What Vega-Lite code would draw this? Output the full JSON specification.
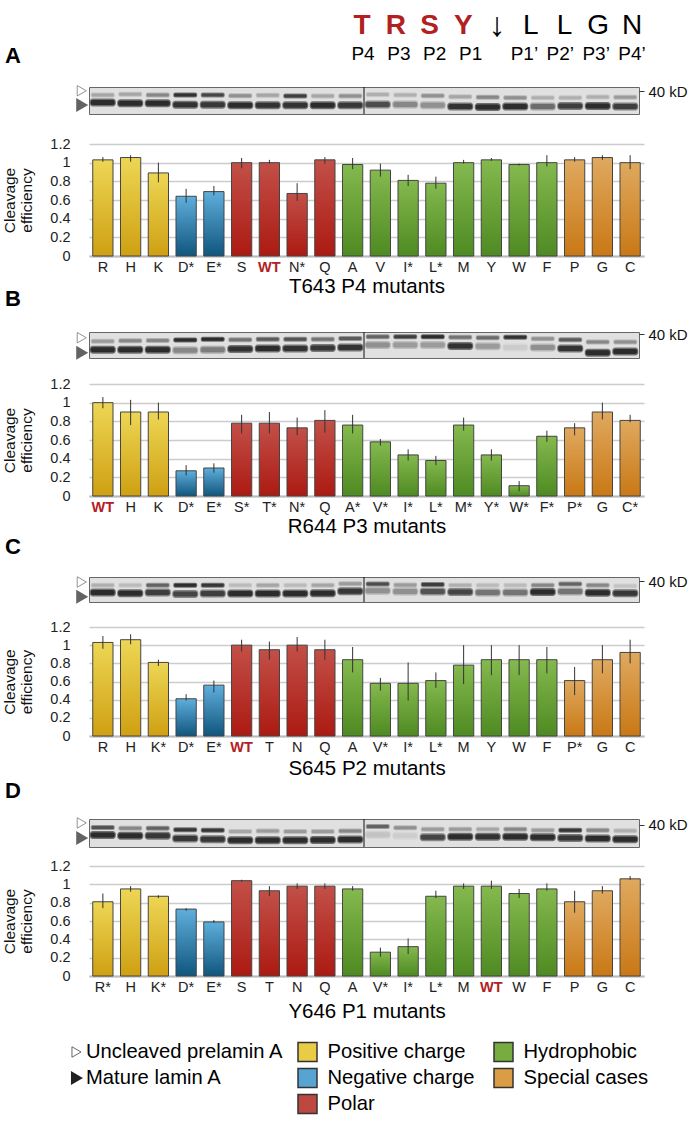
{"$schema":"https://vega.github.io/schema/vega-lite/v6.json","background":"white","padding":{"left":2,"top":0,"right":0,"bottom":0},"autosize":{"type":"pad"},"bounds":"flush","spacing":0,"config":{"font":"Liberation Sans","view":{"stroke":null},"axis":{"labelFont":"Liberation Sans","titleFont":"Liberation Sans"}},
"datasets":{"rows":[
{"panel":"A","mutant":"R","group":"Positive","eff":1.03,"low":1.01,"high":1.06,"gel_up":0.3,"gel_up_i":0.25,"gel_lo":0.57,"gel_lo_i":1},
{"panel":"A","mutant":"H","group":"Positive","eff":1.055,"low":1.01,"high":1.08,"gel_up":0.27,"gel_up_i":0.25,"gel_lo":0.6,"gel_lo_i":1},
{"panel":"A","mutant":"K","group":"Positive","eff":0.89,"low":0.79,"high":1.0,"gel_up":0.3,"gel_up_i":0.4,"gel_lo":0.6,"gel_lo_i":1},
{"panel":"A","mutant":"D*","group":"Negative","eff":0.64,"low":0.57,"high":0.72,"gel_up":0.3,"gel_up_i":0.95,"gel_lo":0.66,"gel_lo_i":0.95},
{"panel":"A","mutant":"E*","group":"Negative","eff":0.69,"low":0.65,"high":0.75,"gel_up":0.3,"gel_up_i":0.8,"gel_lo":0.66,"gel_lo_i":0.9},
{"panel":"A","mutant":"S","group":"Polar","eff":1.0,"low":0.94,"high":1.05,"gel_up":0.32,"gel_up_i":0.35,"gel_lo":0.68,"gel_lo_i":1},
{"panel":"A","mutant":"WT","group":"Polar","eff":1.0,"low":0.99,"high":1.03,"gel_up":0.31,"gel_up_i":0.25,"gel_lo":0.68,"gel_lo_i":0.95},
{"panel":"A","mutant":"N*","group":"Polar","eff":0.67,"low":0.59,"high":0.78,"gel_up":0.33,"gel_up_i":0.85,"gel_lo":0.68,"gel_lo_i":0.95},
{"panel":"A","mutant":"Q","group":"Polar","eff":1.03,"low":0.99,"high":1.06,"gel_up":0.33,"gel_up_i":0.25,"gel_lo":0.68,"gel_lo_i":1},
{"panel":"A","mutant":"A","group":"Hydrophobic","eff":0.98,"low":0.93,"high":1.05,"gel_up":0.33,"gel_up_i":0.35,"gel_lo":0.68,"gel_lo_i":0.9},
{"panel":"A","mutant":"V","group":"Hydrophobic","eff":0.92,"low":0.85,"high":0.99,"gel_up":0.28,"gel_up_i":0.2,"gel_lo":0.65,"gel_lo_i":0.75},
{"panel":"A","mutant":"I*","group":"Hydrophobic","eff":0.81,"low":0.75,"high":0.87,"gel_up":0.3,"gel_up_i":0.2,"gel_lo":0.65,"gel_lo_i":0.4},
{"panel":"A","mutant":"L*","group":"Hydrophobic","eff":0.78,"low":0.72,"high":0.85,"gel_up":0.32,"gel_up_i":0.35,"gel_lo":0.68,"gel_lo_i":0.35},
{"panel":"A","mutant":"M","group":"Hydrophobic","eff":1.0,"low":0.99,"high":1.03,"gel_up":0.36,"gel_up_i":0.25,"gel_lo":0.72,"gel_lo_i":0.95},
{"panel":"A","mutant":"Y","group":"Hydrophobic","eff":1.03,"low":1.02,"high":1.05,"gel_up":0.38,"gel_up_i":0.4,"gel_lo":0.74,"gel_lo_i":1},
{"panel":"A","mutant":"W","group":"Hydrophobic","eff":0.98,"low":0.97,"high":0.99,"gel_up":0.4,"gel_up_i":0.35,"gel_lo":0.72,"gel_lo_i":1},
{"panel":"A","mutant":"F","group":"Hydrophobic","eff":1.0,"low":0.96,"high":1.08,"gel_up":0.4,"gel_up_i":0.2,"gel_lo":0.72,"gel_lo_i":0.55},
{"panel":"A","mutant":"P","group":"Special","eff":1.03,"low":1.01,"high":1.06,"gel_up":0.4,"gel_up_i":0.2,"gel_lo":0.7,"gel_lo_i":0.85},
{"panel":"A","mutant":"G","group":"Special","eff":1.055,"low":1.03,"high":1.08,"gel_up":0.37,"gel_up_i":0.2,"gel_lo":0.7,"gel_lo_i":1},
{"panel":"A","mutant":"C","group":"Special","eff":1.0,"low":0.93,"high":1.08,"gel_up":0.38,"gel_up_i":0.3,"gel_lo":0.72,"gel_lo_i":0.85},
{"panel":"B","mutant":"WT","group":"Positive","eff":1.0,"low":0.94,"high":1.06,"gel_up":0.36,"gel_up_i":0.3,"gel_lo":0.68,"gel_lo_i":1},
{"panel":"B","mutant":"H","group":"Positive","eff":0.9,"low":0.76,"high":1.03,"gel_up":0.34,"gel_up_i":0.4,"gel_lo":0.68,"gel_lo_i":1},
{"panel":"B","mutant":"K","group":"Positive","eff":0.9,"low":0.82,"high":1.0,"gel_up":0.33,"gel_up_i":0.4,"gel_lo":0.68,"gel_lo_i":1},
{"panel":"B","mutant":"D*","group":"Negative","eff":0.27,"low":0.22,"high":0.33,"gel_up":0.31,"gel_up_i":1,"gel_lo":0.7,"gel_lo_i":0.4},
{"panel":"B","mutant":"E*","group":"Negative","eff":0.3,"low":0.25,"high":0.35,"gel_up":0.28,"gel_up_i":1,"gel_lo":0.68,"gel_lo_i":0.45},
{"panel":"B","mutant":"S*","group":"Polar","eff":0.78,"low":0.67,"high":0.87,"gel_up":0.3,"gel_up_i":0.5,"gel_lo":0.65,"gel_lo_i":0.95},
{"panel":"B","mutant":"T*","group":"Polar","eff":0.78,"low":0.67,"high":0.9,"gel_up":0.28,"gel_up_i":0.65,"gel_lo":0.63,"gel_lo_i":1},
{"panel":"B","mutant":"N*","group":"Polar","eff":0.73,"low":0.65,"high":0.84,"gel_up":0.28,"gel_up_i":0.7,"gel_lo":0.63,"gel_lo_i":0.95},
{"panel":"B","mutant":"Q","group":"Polar","eff":0.81,"low":0.68,"high":0.92,"gel_up":0.28,"gel_up_i":0.5,"gel_lo":0.62,"gel_lo_i":0.9},
{"panel":"B","mutant":"A*","group":"Hydrophobic","eff":0.76,"low":0.67,"high":0.87,"gel_up":0.25,"gel_up_i":0.65,"gel_lo":0.6,"gel_lo_i":0.95},
{"panel":"B","mutant":"V*","group":"Hydrophobic","eff":0.58,"low":0.54,"high":0.61,"gel_up":0.18,"gel_up_i":0.6,"gel_lo":0.5,"gel_lo_i":0.35},
{"panel":"B","mutant":"I*","group":"Hydrophobic","eff":0.44,"low":0.38,"high":0.5,"gel_up":0.18,"gel_up_i":0.85,"gel_lo":0.5,"gel_lo_i":0.3},
{"panel":"B","mutant":"L*","group":"Hydrophobic","eff":0.38,"low":0.33,"high":0.43,"gel_up":0.18,"gel_up_i":1,"gel_lo":0.5,"gel_lo_i":0.3},
{"panel":"B","mutant":"M*","group":"Hydrophobic","eff":0.76,"low":0.7,"high":0.84,"gel_up":0.2,"gel_up_i":0.5,"gel_lo":0.54,"gel_lo_i":0.95},
{"panel":"B","mutant":"Y*","group":"Hydrophobic","eff":0.44,"low":0.38,"high":0.5,"gel_up":0.22,"gel_up_i":0.55,"gel_lo":0.55,"gel_lo_i":0.3},
{"panel":"B","mutant":"W*","group":"Hydrophobic","eff":0.11,"low":0.05,"high":0.16,"gel_up":0.2,"gel_up_i":0.95,"gel_lo":0.6,"gel_lo_i":0.08},
{"panel":"B","mutant":"F*","group":"Hydrophobic","eff":0.64,"low":0.58,"high":0.7,"gel_up":0.26,"gel_up_i":0.35,"gel_lo":0.6,"gel_lo_i":0.35},
{"panel":"B","mutant":"P*","group":"Special","eff":0.73,"low":0.65,"high":0.78,"gel_up":0.3,"gel_up_i":0.65,"gel_lo":0.63,"gel_lo_i":0.95},
{"panel":"B","mutant":"G","group":"Special","eff":0.9,"low":0.82,"high":1.0,"gel_up":0.38,"gel_up_i":0.4,"gel_lo":0.8,"gel_lo_i":1},
{"panel":"B","mutant":"C*","group":"Special","eff":0.81,"low":0.79,"high":0.87,"gel_up":0.38,"gel_up_i":0.35,"gel_lo":0.75,"gel_lo_i":1},
{"panel":"C","mutant":"R","group":"Positive","eff":1.03,"low":0.96,"high":1.1,"gel_up":0.33,"gel_up_i":0.2,"gel_lo":0.62,"gel_lo_i":1},
{"panel":"C","mutant":"H","group":"Positive","eff":1.06,"low":1.01,"high":1.12,"gel_up":0.33,"gel_up_i":0.15,"gel_lo":0.65,"gel_lo_i":1},
{"panel":"C","mutant":"K*","group":"Positive","eff":0.81,"low":0.77,"high":0.84,"gel_up":0.33,"gel_up_i":0.6,"gel_lo":0.62,"gel_lo_i":0.85},
{"panel":"C","mutant":"D*","group":"Negative","eff":0.41,"low":0.39,"high":0.46,"gel_up":0.33,"gel_up_i":1,"gel_lo":0.68,"gel_lo_i":0.8},
{"panel":"C","mutant":"E*","group":"Negative","eff":0.56,"low":0.48,"high":0.61,"gel_up":0.33,"gel_up_i":0.9,"gel_lo":0.66,"gel_lo_i":0.85},
{"panel":"C","mutant":"WT","group":"Polar","eff":1.0,"low":0.93,"high":1.06,"gel_up":0.33,"gel_up_i":0.15,"gel_lo":0.66,"gel_lo_i":1},
{"panel":"C","mutant":"T","group":"Polar","eff":0.95,"low":0.84,"high":1.04,"gel_up":0.33,"gel_up_i":0.25,"gel_lo":0.66,"gel_lo_i":1},
{"panel":"C","mutant":"N","group":"Polar","eff":1.0,"low":0.93,"high":1.09,"gel_up":0.33,"gel_up_i":0.15,"gel_lo":0.66,"gel_lo_i":1},
{"panel":"C","mutant":"Q","group":"Polar","eff":0.95,"low":0.84,"high":1.06,"gel_up":0.33,"gel_up_i":0.25,"gel_lo":0.65,"gel_lo_i":1},
{"panel":"C","mutant":"A","group":"Hydrophobic","eff":0.84,"low":0.7,"high":0.98,"gel_up":0.27,"gel_up_i":0.3,"gel_lo":0.57,"gel_lo_i":0.9},
{"panel":"C","mutant":"V*","group":"Hydrophobic","eff":0.58,"low":0.5,"high":0.64,"gel_up":0.28,"gel_up_i":0.75,"gel_lo":0.55,"gel_lo_i":0.35},
{"panel":"C","mutant":"I*","group":"Hydrophobic","eff":0.58,"low":0.39,"high":0.81,"gel_up":0.32,"gel_up_i":0.3,"gel_lo":0.58,"gel_lo_i":0.35},
{"panel":"C","mutant":"L*","group":"Hydrophobic","eff":0.61,"low":0.53,"high":0.7,"gel_up":0.3,"gel_up_i":0.85,"gel_lo":0.58,"gel_lo_i":0.7},
{"panel":"C","mutant":"M","group":"Hydrophobic","eff":0.78,"low":0.57,"high":1.0,"gel_up":0.33,"gel_up_i":0.2,"gel_lo":0.6,"gel_lo_i":0.8},
{"panel":"C","mutant":"Y","group":"Hydrophobic","eff":0.84,"low":0.67,"high":1.0,"gel_up":0.33,"gel_up_i":0.15,"gel_lo":0.62,"gel_lo_i":0.5},
{"panel":"C","mutant":"W","group":"Hydrophobic","eff":0.84,"low":0.67,"high":1.0,"gel_up":0.33,"gel_up_i":0.15,"gel_lo":0.62,"gel_lo_i":0.5},
{"panel":"C","mutant":"F","group":"Hydrophobic","eff":0.84,"low":0.69,"high":0.98,"gel_up":0.33,"gel_up_i":0.4,"gel_lo":0.6,"gel_lo_i":1},
{"panel":"C","mutant":"P*","group":"Special","eff":0.61,"low":0.45,"high":0.76,"gel_up":0.28,"gel_up_i":0.6,"gel_lo":0.58,"gel_lo_i":0.5},
{"panel":"C","mutant":"G","group":"Special","eff":0.84,"low":0.69,"high":1.0,"gel_up":0.33,"gel_up_i":0.4,"gel_lo":0.63,"gel_lo_i":1},
{"panel":"C","mutant":"C","group":"Special","eff":0.92,"low":0.8,"high":1.06,"gel_up":0.36,"gel_up_i":0.12,"gel_lo":0.65,"gel_lo_i":0.9},
{"panel":"D","mutant":"R*","group":"Positive","eff":0.81,"low":0.74,"high":0.9,"gel_up":0.3,"gel_up_i":0.7,"gel_lo":0.57,"gel_lo_i":1},
{"panel":"D","mutant":"H","group":"Positive","eff":0.95,"low":0.92,"high":0.98,"gel_up":0.33,"gel_up_i":0.4,"gel_lo":0.6,"gel_lo_i":1},
{"panel":"D","mutant":"K*","group":"Positive","eff":0.87,"low":0.85,"high":0.88,"gel_up":0.33,"gel_up_i":0.6,"gel_lo":0.6,"gel_lo_i":0.9},
{"panel":"D","mutant":"D*","group":"Negative","eff":0.73,"low":0.71,"high":0.74,"gel_up":0.38,"gel_up_i":0.9,"gel_lo":0.7,"gel_lo_i":0.9},
{"panel":"D","mutant":"E*","group":"Negative","eff":0.59,"low":0.58,"high":0.61,"gel_up":0.4,"gel_up_i":0.9,"gel_lo":0.72,"gel_lo_i":0.9},
{"panel":"D","mutant":"S","group":"Polar","eff":1.04,"low":1.03,"high":1.05,"gel_up":0.45,"gel_up_i":0.25,"gel_lo":0.76,"gel_lo_i":1},
{"panel":"D","mutant":"T","group":"Polar","eff":0.93,"low":0.87,"high":0.98,"gel_up":0.43,"gel_up_i":0.3,"gel_lo":0.76,"gel_lo_i":1},
{"panel":"D","mutant":"N","group":"Polar","eff":0.98,"low":0.95,"high":1.01,"gel_up":0.45,"gel_up_i":0.3,"gel_lo":0.76,"gel_lo_i":1},
{"panel":"D","mutant":"Q","group":"Polar","eff":0.98,"low":0.95,"high":1.01,"gel_up":0.45,"gel_up_i":0.3,"gel_lo":0.75,"gel_lo_i":1},
{"panel":"D","mutant":"A","group":"Hydrophobic","eff":0.95,"low":0.93,"high":0.98,"gel_up":0.43,"gel_up_i":0.4,"gel_lo":0.73,"gel_lo_i":1},
{"panel":"D","mutant":"V*","group":"Hydrophobic","eff":0.26,"low":0.21,"high":0.31,"gel_up":0.27,"gel_up_i":0.6,"gel_lo":0.56,"gel_lo_i":0.12},
{"panel":"D","mutant":"I*","group":"Hydrophobic","eff":0.32,"low":0.24,"high":0.41,"gel_up":0.31,"gel_up_i":0.35,"gel_lo":0.6,"gel_lo_i":0.07},
{"panel":"D","mutant":"L*","group":"Hydrophobic","eff":0.87,"low":0.85,"high":0.93,"gel_up":0.37,"gel_up_i":0.3,"gel_lo":0.65,"gel_lo_i":0.8},
{"panel":"D","mutant":"M","group":"Hydrophobic","eff":0.98,"low":0.95,"high":1.01,"gel_up":0.37,"gel_up_i":0.3,"gel_lo":0.63,"gel_lo_i":1},
{"panel":"D","mutant":"WT","group":"Hydrophobic","eff":0.98,"low":0.95,"high":1.04,"gel_up":0.37,"gel_up_i":0.25,"gel_lo":0.63,"gel_lo_i":0.95},
{"panel":"D","mutant":"W","group":"Hydrophobic","eff":0.9,"low":0.85,"high":0.95,"gel_up":0.37,"gel_up_i":0.4,"gel_lo":0.63,"gel_lo_i":1},
{"panel":"D","mutant":"F","group":"Hydrophobic","eff":0.95,"low":0.93,"high":1.01,"gel_up":0.4,"gel_up_i":0.3,"gel_lo":0.65,"gel_lo_i":1},
{"panel":"D","mutant":"P","group":"Special","eff":0.81,"low":0.69,"high":0.93,"gel_up":0.4,"gel_up_i":0.9,"gel_lo":0.68,"gel_lo_i":0.9},
{"panel":"D","mutant":"G","group":"Special","eff":0.93,"low":0.9,"high":0.98,"gel_up":0.4,"gel_up_i":0.4,"gel_lo":0.7,"gel_lo_i":1},
{"panel":"D","mutant":"C","group":"Special","eff":1.06,"low":1.05,"high":1.09,"gel_up":0.42,"gel_up_i":0.2,"gel_lo":0.72,"gel_lo_i":1}
],
"seq":[
{"site":"P4","residue":"T","mutated":true},{"site":"P3","residue":"R","mutated":true},{"site":"P2","residue":"S","mutated":true},{"site":"P1","residue":"Y","mutated":true},{"site":"cut","residue":"↓","mutated":false},{"site":"P1’","residue":"L","mutated":false},{"site":"P2’","residue":"L","mutated":false},{"site":"P3’","residue":"G","mutated":false},{"site":"P4’","residue":"N","mutated":false}],
"key":[
{"label":"Uncleaved prelamin A","col":"c1","row":"r1","kind":"open"},
{"label":"Mature lamin A","col":"c1","row":"r2","kind":"filled"},
{"label":"Positive charge","col":"c2","row":"r1","kind":"swatch"},
{"label":"Negative charge","col":"c2","row":"r2","kind":"swatch"},
{"label":"Polar","col":"c2","row":"r3","kind":"swatch"},
{"label":"Hydrophobic","col":"c3","row":"r1","kind":"swatch"},
{"label":"Special cases","col":"c3","row":"r2","kind":"swatch"}]},
"data":{"name":"rows"},
"vconcat":[
{"width":555,"height":40,"data":{"name":"seq"},"encoding":{"x":{"field":"site","type":"nominal","axis":null,"scale":{"type":"point","domain":["P4","P3","P2","P1","cut","P1’","P2’","P3’","P4’"],"range":[273,543],"padding":0}},"text":{"field":"residue"}},
"layer":[{"transform":[{"filter":"datum.mutated"}],"mark":{"type":"text","fontSize":28,"fontWeight":"bold","color":"#B2201F","dy":6}},{"transform":[{"filter":"!datum.mutated && datum.site!=='cut'"}],"mark":{"type":"text","fontSize":28,"color":"#000","dy":6}},{"transform":[{"filter":"datum.site==='cut'"}],"mark":{"type":"text","fontSize":34,"color":"#000","dy":6}}]},
{"width":555,"height":28,"data":{"name":"seq"},"transform":[{"filter":"datum.site!=='cut'"}],"mark":{"type":"text","fontSize":19,"color":"#000"},"encoding":{"x":{"field":"site","type":"nominal","axis":null,"scale":{"type":"point","domain":["P4","a","P3","b","P2","c","P1","d","e","P1’","f","P2’","g","P3’","h","P4’"],"range":[274,543],"padding":0}},"text":{"field":"site"}}},
{"width":555,"height":19,"data":{"values":[]},"mark":"text","encoding":{}},
{"width":550,"height":27,"title":{"text":"A","anchor":"start","frame":"group","offset":16,"dx":-84,"fontSize":22,"fontWeight":"bold","color":"#000"},"view":{"fill":"#e0e0e0","stroke":"#666"},"transform":[{"filter":"datum.panel==='A'"}],
"encoding":{"x":{"field":"mutant","type":"nominal","axis":null,"scale":{"type":"band","paddingInner":0,"paddingOuter":0,"domain":["R","H","K","D*","E*","S","WT","N*","Q","A","V","I*","L*","M","Y","W","F","P","G","C"]}}},
"layer":[
{"mark":{"type":"tick","size":24,"thickness":5,"cornerRadius":2,"color":"#222"},"encoding":{"y":{"field":"gel_up","type":"quantitative","scale":{"domain":[1,0]},"axis":{"orient":"right","values":[0.15],"labelExpr":"'40 kD'","domain":false,"grid":false,"ticks":true,"tickSize":5,"tickColor":"#333","labelFontSize":15,"labelPadding":4,"labelColor":"#111","title":null}},"opacity":{"field":"gel_up_i","type":"quantitative","scale":{"domain":[0,1],"range":[0,0.6]},"legend":null}}},
{"mark":{"type":"tick","size":22,"thickness":3,"cornerRadius":1,"color":"#000"},"encoding":{"y":{"field":"gel_up","type":"quantitative","scale":{"domain":[1,0]}},"opacity":{"field":"gel_up_i","type":"quantitative","scale":{"domain":[0,1],"range":[0,1]},"legend":null}}},
{"mark":{"type":"tick","size":26,"thickness":8,"cornerRadius":3,"color":"#222"},"encoding":{"y":{"field":"gel_lo","type":"quantitative","scale":{"domain":[1,0]}},"opacity":{"field":"gel_lo_i","type":"quantitative","scale":{"domain":[0,1],"range":[0,0.6]},"legend":null}}},
{"mark":{"type":"tick","size":24,"thickness":5,"cornerRadius":2,"color":"#000"},"encoding":{"y":{"field":"gel_lo","type":"quantitative","scale":{"domain":[1,0]}},"opacity":{"field":"gel_lo_i","type":"quantitative","scale":{"domain":[0,1],"range":[0,1]},"legend":null}}},
{"transform":[{"filter":"datum.mutant==='V'"}],"mark":{"type":"rule","color":"#111","strokeWidth":1},"encoding":{"x":{"field":"mutant","type":"nominal","bandPosition":0}}},
{"transform":[{"filter":"datum.mutant==='R'"}],"mark":{"type":"point","shape":"triangle-right","filled":true,"fill":"#fff","stroke":"#666","strokeWidth":1,"size":110,"xOffset":-21},"encoding":{"y":{"datum":0.14,"scale":{"domain":[1,0]}}}},
{"transform":[{"filter":"datum.mutant==='R'"}],"mark":{"type":"point","shape":"triangle-right","filled":true,"fill":"#222","stroke":"#222","size":110,"xOffset":-21},"encoding":{"y":{"datum":0.67,"scale":{"domain":[1,0]}}}}
]},
{"width":555,"height":30,"data":{"values":[]},"mark":"text","encoding":{}},
{"width":555,"height":112,"transform":[{"filter":"datum.panel==='A'"}],
"encoding":{"x":{"field":"mutant","type":"nominal","scale":{"type":"band","paddingInner":0.27,"paddingOuter":0.135,"domain":["R","H","K","D*","E*","S","WT","N*","Q","A","V","I*","L*","M","Y","W","F","P","G","C"]},"axis":{"title":"T643 P4 mutants","titleFontSize":20.5,"titleFontWeight":"normal","titleColor":"#000","titlePadding":3,"labelFontSize":14.5,"labelAngle":0,"labelPadding":4,"labelOverlap":false,"ticks":false,"domainColor":"#bbb","domainWidth":2,"labelColor":{"condition":{"test":"datum.value==='WT'","value":"#B2201F"},"value":"#222"},"labelFontWeight":{"condition":{"test":"datum.value==='WT'","value":"bold"},"value":"normal"}}}},
"layer":[
{"mark":{"type":"bar","stroke":"#444","strokeWidth":1},"encoding":{"y":{"field":"eff","type":"quantitative","scale":{"domain":[0,1.2]},"axis":{"values":[0,0.2,0.4,0.6,0.8,1,1.2],"tickCount":7,"labelExpr":"''+datum.value","labelOverlap":false,"title":["Cleavage","efficiency"],"titleFontSize":15.5,"titleFontWeight":"normal","titleColor":"#111","titlePadding":15,"labelFontSize":14.5,"labelColor":"#222","labelPadding":19,"ticks":false,"domain":false,"gridColor":"#ccc","gridWidth":1.5}},
"fill":{"condition":[{"test":"datum.group==='Positive'","value":{"gradient":"linear","x1":0,"y1":0,"x2":0,"y2":1,"stops":[{"offset":0,"color":"#EDD655"},{"offset":1,"color":"#CFA012"}]}},{"test":"datum.group==='Negative'","value":{"gradient":"linear","x1":0,"y1":0,"x2":0,"y2":1,"stops":[{"offset":0,"color":"#5FAEDC"},{"offset":1,"color":"#10567E"}]}},{"test":"datum.group==='Polar'","value":{"gradient":"linear","x1":0,"y1":0,"x2":0,"y2":1,"stops":[{"offset":0,"color":"#C25048"},{"offset":1,"color":"#AB1A12"}]}},{"test":"datum.group==='Hydrophobic'","value":{"gradient":"linear","x1":0,"y1":0,"x2":0,"y2":1,"stops":[{"offset":0,"color":"#84B94E"},{"offset":1,"color":"#4E8A22"}]}}],"value":{"gradient":"linear","x1":0,"y1":0,"x2":0,"y2":1,"stops":[{"offset":0,"color":"#DFA95F"},{"offset":1,"color":"#C97815"}]}}}},
{"mark":{"type":"rule","color":"#333","strokeWidth":1},"encoding":{"y":{"field":"low","type":"quantitative"},"y2":{"field":"high"}}}
]},
{"width":555,"height":76,"data":{"values":[]},"mark":"text","encoding":{}},
{"width":550,"height":26,"title":{"text":"B","anchor":"start","frame":"group","offset":16,"dx":-84,"fontSize":22,"fontWeight":"bold","color":"#000"},"view":{"fill":"#e0e0e0","stroke":"#666"},"transform":[{"filter":"datum.panel==='B'"}],
"encoding":{"x":{"field":"mutant","type":"nominal","axis":null,"scale":{"type":"band","paddingInner":0,"paddingOuter":0,"domain":["WT","H","K","D*","E*","S*","T*","N*","Q","A*","V*","I*","L*","M*","Y*","W*","F*","P*","G","C*"]}}},
"layer":[
{"mark":{"type":"tick","size":24,"thickness":5,"cornerRadius":2,"color":"#222"},"encoding":{"y":{"field":"gel_up","type":"quantitative","scale":{"domain":[1,0]},"axis":{"orient":"right","values":[0.08],"labelExpr":"'40 kD'","domain":false,"grid":false,"ticks":true,"tickSize":5,"tickColor":"#333","labelFontSize":15,"labelPadding":4,"labelColor":"#111","title":null}},"opacity":{"field":"gel_up_i","type":"quantitative","scale":{"domain":[0,1],"range":[0,0.6]},"legend":null}}},
{"mark":{"type":"tick","size":22,"thickness":3,"cornerRadius":1,"color":"#000"},"encoding":{"y":{"field":"gel_up","type":"quantitative","scale":{"domain":[1,0]}},"opacity":{"field":"gel_up_i","type":"quantitative","scale":{"domain":[0,1],"range":[0,1]},"legend":null}}},
{"mark":{"type":"tick","size":26,"thickness":8,"cornerRadius":3,"color":"#222"},"encoding":{"y":{"field":"gel_lo","type":"quantitative","scale":{"domain":[1,0]}},"opacity":{"field":"gel_lo_i","type":"quantitative","scale":{"domain":[0,1],"range":[0,0.6]},"legend":null}}},
{"mark":{"type":"tick","size":24,"thickness":5,"cornerRadius":2,"color":"#000"},"encoding":{"y":{"field":"gel_lo","type":"quantitative","scale":{"domain":[1,0]}},"opacity":{"field":"gel_lo_i","type":"quantitative","scale":{"domain":[0,1],"range":[0,1]},"legend":null}}},
{"transform":[{"filter":"datum.mutant==='V*'"}],"mark":{"type":"rule","color":"#111","strokeWidth":1},"encoding":{"x":{"field":"mutant","type":"nominal","bandPosition":0}}},
{"transform":[{"filter":"datum.mutant==='WT'"}],"mark":{"type":"point","shape":"triangle-right","filled":true,"fill":"#fff","stroke":"#666","strokeWidth":1,"size":110,"xOffset":-21},"encoding":{"y":{"datum":0.22,"scale":{"domain":[1,0]}}}},
{"transform":[{"filter":"datum.mutant==='WT'"}],"mark":{"type":"point","shape":"triangle-right","filled":true,"fill":"#222","stroke":"#222","size":110,"xOffset":-21},"encoding":{"y":{"datum":0.8,"scale":{"domain":[1,0]}}}}
]},
{"width":555,"height":26,"data":{"values":[]},"mark":"text","encoding":{}},
{"width":555,"height":112,"transform":[{"filter":"datum.panel==='B'"}],
"encoding":{"x":{"field":"mutant","type":"nominal","scale":{"type":"band","paddingInner":0.27,"paddingOuter":0.135,"domain":["WT","H","K","D*","E*","S*","T*","N*","Q","A*","V*","I*","L*","M*","Y*","W*","F*","P*","G","C*"]},"axis":{"title":"R644 P3 mutants","titleFontSize":20.5,"titleFontWeight":"normal","titleColor":"#000","titlePadding":3,"labelFontSize":14.5,"labelAngle":0,"labelPadding":4,"labelOverlap":false,"ticks":false,"domainColor":"#bbb","domainWidth":2,"labelColor":{"condition":{"test":"datum.value==='WT'","value":"#B2201F"},"value":"#222"},"labelFontWeight":{"condition":{"test":"datum.value==='WT'","value":"bold"},"value":"normal"}}}},
"layer":[
{"mark":{"type":"bar","stroke":"#444","strokeWidth":1},"encoding":{"y":{"field":"eff","type":"quantitative","scale":{"domain":[0,1.2]},"axis":{"values":[0,0.2,0.4,0.6,0.8,1,1.2],"tickCount":7,"labelExpr":"''+datum.value","labelOverlap":false,"title":["Cleavage","efficiency"],"titleFontSize":15.5,"titleFontWeight":"normal","titleColor":"#111","titlePadding":15,"labelFontSize":14.5,"labelColor":"#222","labelPadding":19,"ticks":false,"domain":false,"gridColor":"#ccc","gridWidth":1.5}},
"fill":{"condition":[{"test":"datum.group==='Positive'","value":{"gradient":"linear","x1":0,"y1":0,"x2":0,"y2":1,"stops":[{"offset":0,"color":"#EDD655"},{"offset":1,"color":"#CFA012"}]}},{"test":"datum.group==='Negative'","value":{"gradient":"linear","x1":0,"y1":0,"x2":0,"y2":1,"stops":[{"offset":0,"color":"#5FAEDC"},{"offset":1,"color":"#10567E"}]}},{"test":"datum.group==='Polar'","value":{"gradient":"linear","x1":0,"y1":0,"x2":0,"y2":1,"stops":[{"offset":0,"color":"#C25048"},{"offset":1,"color":"#AB1A12"}]}},{"test":"datum.group==='Hydrophobic'","value":{"gradient":"linear","x1":0,"y1":0,"x2":0,"y2":1,"stops":[{"offset":0,"color":"#84B94E"},{"offset":1,"color":"#4E8A22"}]}}],"value":{"gradient":"linear","x1":0,"y1":0,"x2":0,"y2":1,"stops":[{"offset":0,"color":"#DFA95F"},{"offset":1,"color":"#C97815"}]}}}},
{"mark":{"type":"rule","color":"#333","strokeWidth":1},"encoding":{"y":{"field":"low","type":"quantitative"},"y2":{"field":"high"}}}
]},
{"width":555,"height":81,"data":{"values":[]},"mark":"text","encoding":{}},
{"width":550,"height":25,"title":{"text":"C","anchor":"start","frame":"group","offset":15,"dx":-84,"fontSize":22,"fontWeight":"bold","color":"#000"},"view":{"fill":"#e0e0e0","stroke":"#666"},"transform":[{"filter":"datum.panel==='C'"}],
"encoding":{"x":{"field":"mutant","type":"nominal","axis":null,"scale":{"type":"band","paddingInner":0,"paddingOuter":0,"domain":["R","H","K*","D*","E*","WT","T","N","Q","A","V*","I*","L*","M","Y","W","F","P*","G","C"]}}},
"layer":[
{"mark":{"type":"tick","size":24,"thickness":5,"cornerRadius":2,"color":"#222"},"encoding":{"y":{"field":"gel_up","type":"quantitative","scale":{"domain":[1,0]},"axis":{"orient":"right","values":[0.17],"labelExpr":"'40 kD'","domain":false,"grid":false,"ticks":true,"tickSize":5,"tickColor":"#333","labelFontSize":15,"labelPadding":4,"labelColor":"#111","title":null}},"opacity":{"field":"gel_up_i","type":"quantitative","scale":{"domain":[0,1],"range":[0,0.6]},"legend":null}}},
{"mark":{"type":"tick","size":22,"thickness":3,"cornerRadius":1,"color":"#000"},"encoding":{"y":{"field":"gel_up","type":"quantitative","scale":{"domain":[1,0]}},"opacity":{"field":"gel_up_i","type":"quantitative","scale":{"domain":[0,1],"range":[0,1]},"legend":null}}},
{"mark":{"type":"tick","size":26,"thickness":8,"cornerRadius":3,"color":"#222"},"encoding":{"y":{"field":"gel_lo","type":"quantitative","scale":{"domain":[1,0]}},"opacity":{"field":"gel_lo_i","type":"quantitative","scale":{"domain":[0,1],"range":[0,0.6]},"legend":null}}},
{"mark":{"type":"tick","size":24,"thickness":5,"cornerRadius":2,"color":"#000"},"encoding":{"y":{"field":"gel_lo","type":"quantitative","scale":{"domain":[1,0]}},"opacity":{"field":"gel_lo_i","type":"quantitative","scale":{"domain":[0,1],"range":[0,1]},"legend":null}}},
{"transform":[{"filter":"datum.mutant==='V*'"}],"mark":{"type":"rule","color":"#111","strokeWidth":1},"encoding":{"x":{"field":"mutant","type":"nominal","bandPosition":0}}},
{"transform":[{"filter":"datum.mutant==='R'"}],"mark":{"type":"point","shape":"triangle-right","filled":true,"fill":"#fff","stroke":"#666","strokeWidth":1,"size":110,"xOffset":-21},"encoding":{"y":{"datum":0.2,"scale":{"domain":[1,0]}}}},
{"transform":[{"filter":"datum.mutant==='R'"}],"mark":{"type":"point","shape":"triangle-right","filled":true,"fill":"#222","stroke":"#222","size":110,"xOffset":-21},"encoding":{"y":{"datum":0.79,"scale":{"domain":[1,0]}}}}
]},
{"width":555,"height":25,"data":{"values":[]},"mark":"text","encoding":{}},
{"width":555,"height":109,"transform":[{"filter":"datum.panel==='C'"}],
"encoding":{"x":{"field":"mutant","type":"nominal","scale":{"type":"band","paddingInner":0.27,"paddingOuter":0.135,"domain":["R","H","K*","D*","E*","WT","T","N","Q","A","V*","I*","L*","M","Y","W","F","P*","G","C"]},"axis":{"title":"S645 P2 mutants","titleFontSize":20.5,"titleFontWeight":"normal","titleColor":"#000","titlePadding":5,"labelFontSize":14.5,"labelAngle":0,"labelPadding":4,"labelOverlap":false,"ticks":false,"domainColor":"#bbb","domainWidth":2,"labelColor":{"condition":{"test":"datum.value==='WT'","value":"#B2201F"},"value":"#222"},"labelFontWeight":{"condition":{"test":"datum.value==='WT'","value":"bold"},"value":"normal"}}}},
"layer":[
{"mark":{"type":"bar","stroke":"#444","strokeWidth":1},"encoding":{"y":{"field":"eff","type":"quantitative","scale":{"domain":[0,1.2]},"axis":{"values":[0,0.2,0.4,0.6,0.8,1,1.2],"tickCount":7,"labelExpr":"''+datum.value","labelOverlap":false,"title":["Cleavage","efficiency"],"titleFontSize":15.5,"titleFontWeight":"normal","titleColor":"#111","titlePadding":15,"labelFontSize":14.5,"labelColor":"#222","labelPadding":19,"ticks":false,"domain":false,"gridColor":"#ccc","gridWidth":1.5}},
"fill":{"condition":[{"test":"datum.group==='Positive'","value":{"gradient":"linear","x1":0,"y1":0,"x2":0,"y2":1,"stops":[{"offset":0,"color":"#EDD655"},{"offset":1,"color":"#CFA012"}]}},{"test":"datum.group==='Negative'","value":{"gradient":"linear","x1":0,"y1":0,"x2":0,"y2":1,"stops":[{"offset":0,"color":"#5FAEDC"},{"offset":1,"color":"#10567E"}]}},{"test":"datum.group==='Polar'","value":{"gradient":"linear","x1":0,"y1":0,"x2":0,"y2":1,"stops":[{"offset":0,"color":"#C25048"},{"offset":1,"color":"#AB1A12"}]}},{"test":"datum.group==='Hydrophobic'","value":{"gradient":"linear","x1":0,"y1":0,"x2":0,"y2":1,"stops":[{"offset":0,"color":"#84B94E"},{"offset":1,"color":"#4E8A22"}]}}],"value":{"gradient":"linear","x1":0,"y1":0,"x2":0,"y2":1,"stops":[{"offset":0,"color":"#DFA95F"},{"offset":1,"color":"#C97815"}]}}}},
{"mark":{"type":"rule","color":"#333","strokeWidth":1},"encoding":{"y":{"field":"low","type":"quantitative"},"y2":{"field":"high"}}}
]},
{"width":555,"height":83,"data":{"values":[]},"mark":"text","encoding":{}},
{"width":550,"height":28,"title":{"text":"D","anchor":"start","frame":"group","offset":13,"dx":-84,"fontSize":22,"fontWeight":"bold","color":"#000"},"view":{"fill":"#e0e0e0","stroke":"#666"},"transform":[{"filter":"datum.panel==='D'"}],
"encoding":{"x":{"field":"mutant","type":"nominal","axis":null,"scale":{"type":"band","paddingInner":0,"paddingOuter":0,"domain":["R*","H","K*","D*","E*","S","T","N","Q","A","V*","I*","L*","M","WT","W","F","P","G","C"]}}},
"layer":[
{"mark":{"type":"tick","size":24,"thickness":5,"cornerRadius":2,"color":"#222"},"encoding":{"y":{"field":"gel_up","type":"quantitative","scale":{"domain":[1,0]},"axis":{"orient":"right","values":[0.21],"labelExpr":"'40 kD'","domain":false,"grid":false,"ticks":true,"tickSize":5,"tickColor":"#333","labelFontSize":15,"labelPadding":4,"labelColor":"#111","title":null}},"opacity":{"field":"gel_up_i","type":"quantitative","scale":{"domain":[0,1],"range":[0,0.6]},"legend":null}}},
{"mark":{"type":"tick","size":22,"thickness":3,"cornerRadius":1,"color":"#000"},"encoding":{"y":{"field":"gel_up","type":"quantitative","scale":{"domain":[1,0]}},"opacity":{"field":"gel_up_i","type":"quantitative","scale":{"domain":[0,1],"range":[0,1]},"legend":null}}},
{"mark":{"type":"tick","size":26,"thickness":8,"cornerRadius":3,"color":"#222"},"encoding":{"y":{"field":"gel_lo","type":"quantitative","scale":{"domain":[1,0]}},"opacity":{"field":"gel_lo_i","type":"quantitative","scale":{"domain":[0,1],"range":[0,0.6]},"legend":null}}},
{"mark":{"type":"tick","size":24,"thickness":5,"cornerRadius":2,"color":"#000"},"encoding":{"y":{"field":"gel_lo","type":"quantitative","scale":{"domain":[1,0]}},"opacity":{"field":"gel_lo_i","type":"quantitative","scale":{"domain":[0,1],"range":[0,1]},"legend":null}}},
{"transform":[{"filter":"datum.mutant==='V*'"}],"mark":{"type":"rule","color":"#111","strokeWidth":1},"encoding":{"x":{"field":"mutant","type":"nominal","bandPosition":0}}},
{"transform":[{"filter":"datum.mutant==='R*'"}],"mark":{"type":"point","shape":"triangle-right","filled":true,"fill":"#fff","stroke":"#666","strokeWidth":1,"size":110,"xOffset":-21},"encoding":{"y":{"datum":0.14,"scale":{"domain":[1,0]}}}},
{"transform":[{"filter":"datum.mutant==='R*'"}],"mark":{"type":"point","shape":"triangle-right","filled":true,"fill":"#222","stroke":"#222","size":110,"xOffset":-21},"encoding":{"y":{"datum":0.68,"scale":{"domain":[1,0]}}}}
]},
{"width":555,"height":19,"data":{"values":[]},"mark":"text","encoding":{}},
{"width":555,"height":110,"transform":[{"filter":"datum.panel==='D'"}],
"encoding":{"x":{"field":"mutant","type":"nominal","scale":{"type":"band","paddingInner":0.27,"paddingOuter":0.135,"domain":["R*","H","K*","D*","E*","S","T","N","Q","A","V*","I*","L*","M","WT","W","F","P","G","C"]},"axis":{"title":"Y646 P1 mutants","titleFontSize":20.5,"titleFontWeight":"normal","titleColor":"#000","titlePadding":8,"labelFontSize":14.5,"labelAngle":0,"labelPadding":4,"labelOverlap":false,"ticks":false,"domainColor":"#bbb","domainWidth":2,"labelColor":{"condition":{"test":"datum.value==='WT'","value":"#B2201F"},"value":"#222"},"labelFontWeight":{"condition":{"test":"datum.value==='WT'","value":"bold"},"value":"normal"}}}},
"layer":[
{"mark":{"type":"bar","stroke":"#444","strokeWidth":1},"encoding":{"y":{"field":"eff","type":"quantitative","scale":{"domain":[0,1.2]},"axis":{"values":[0,0.2,0.4,0.6,0.8,1,1.2],"tickCount":7,"labelExpr":"''+datum.value","labelOverlap":false,"title":["Cleavage","efficiency"],"titleFontSize":15.5,"titleFontWeight":"normal","titleColor":"#111","titlePadding":15,"labelFontSize":14.5,"labelColor":"#222","labelPadding":19,"ticks":false,"domain":false,"gridColor":"#ccc","gridWidth":1.5}},
"fill":{"condition":[{"test":"datum.group==='Positive'","value":{"gradient":"linear","x1":0,"y1":0,"x2":0,"y2":1,"stops":[{"offset":0,"color":"#EDD655"},{"offset":1,"color":"#CFA012"}]}},{"test":"datum.group==='Negative'","value":{"gradient":"linear","x1":0,"y1":0,"x2":0,"y2":1,"stops":[{"offset":0,"color":"#5FAEDC"},{"offset":1,"color":"#10567E"}]}},{"test":"datum.group==='Polar'","value":{"gradient":"linear","x1":0,"y1":0,"x2":0,"y2":1,"stops":[{"offset":0,"color":"#C25048"},{"offset":1,"color":"#AB1A12"}]}},{"test":"datum.group==='Hydrophobic'","value":{"gradient":"linear","x1":0,"y1":0,"x2":0,"y2":1,"stops":[{"offset":0,"color":"#84B94E"},{"offset":1,"color":"#4E8A22"}]}}],"value":{"gradient":"linear","x1":0,"y1":0,"x2":0,"y2":1,"stops":[{"offset":0,"color":"#DFA95F"},{"offset":1,"color":"#C97815"}]}}}},
{"mark":{"type":"rule","color":"#333","strokeWidth":1},"encoding":{"y":{"field":"low","type":"quantitative"},"y2":{"field":"high"}}}
]},
{"width":555,"height":76,"data":{"values":[]},"mark":"text","encoding":{}},
{"width":555,"height":52,"data":{"name":"key"},
"encoding":{"x":{"field":"col","type":"nominal","axis":null,"scale":{"type":"point","domain":["c1","c2","c3"],"range":[22.5,414.5],"padding":0}},"y":{"field":"row","type":"nominal","axis":null,"scale":{"type":"point","domain":["r1","r2","r3"],"range":[0,52],"padding":0}}},
"layer":[
{"transform":[{"filter":"datum.kind==='swatch'"}],"mark":{"type":"point","shape":"square","filled":true,"size":361,"stroke":"#333","strokeWidth":1.5,"opacity":1},"encoding":{"fill":{"field":"label","type":"nominal","legend":null,"scale":{"domain":["Positive charge","Negative charge","Polar","Hydrophobic","Special cases"],"range":["#EACB45","#57A4D2","#BD4840","#76AC40","#DA9C44"]}}}},
{"transform":[{"filter":"datum.kind==='swatch'"}],"mark":{"type":"text","align":"left","dx":20,"fontSize":20.2,"color":"#000"},"encoding":{"text":{"field":"label"}}},
{"transform":[{"filter":"datum.kind!=='swatch'"}],"mark":{"type":"text","align":"left","dx":-25.5,"fontSize":20.2,"color":"#000"},"encoding":{"text":{"field":"label"}}},
{"transform":[{"filter":"datum.kind==='open'"}],"mark":{"type":"point","shape":"triangle-right","filled":true,"fill":"#fff","stroke":"#666","strokeWidth":1,"size":110,"xOffset":-35,"opacity":1}},
{"transform":[{"filter":"datum.kind==='filled'"}],"mark":{"type":"point","shape":"triangle-right","filled":true,"fill":"#222","stroke":"#222","size":110,"xOffset":-35,"opacity":1}}
]}
]}
